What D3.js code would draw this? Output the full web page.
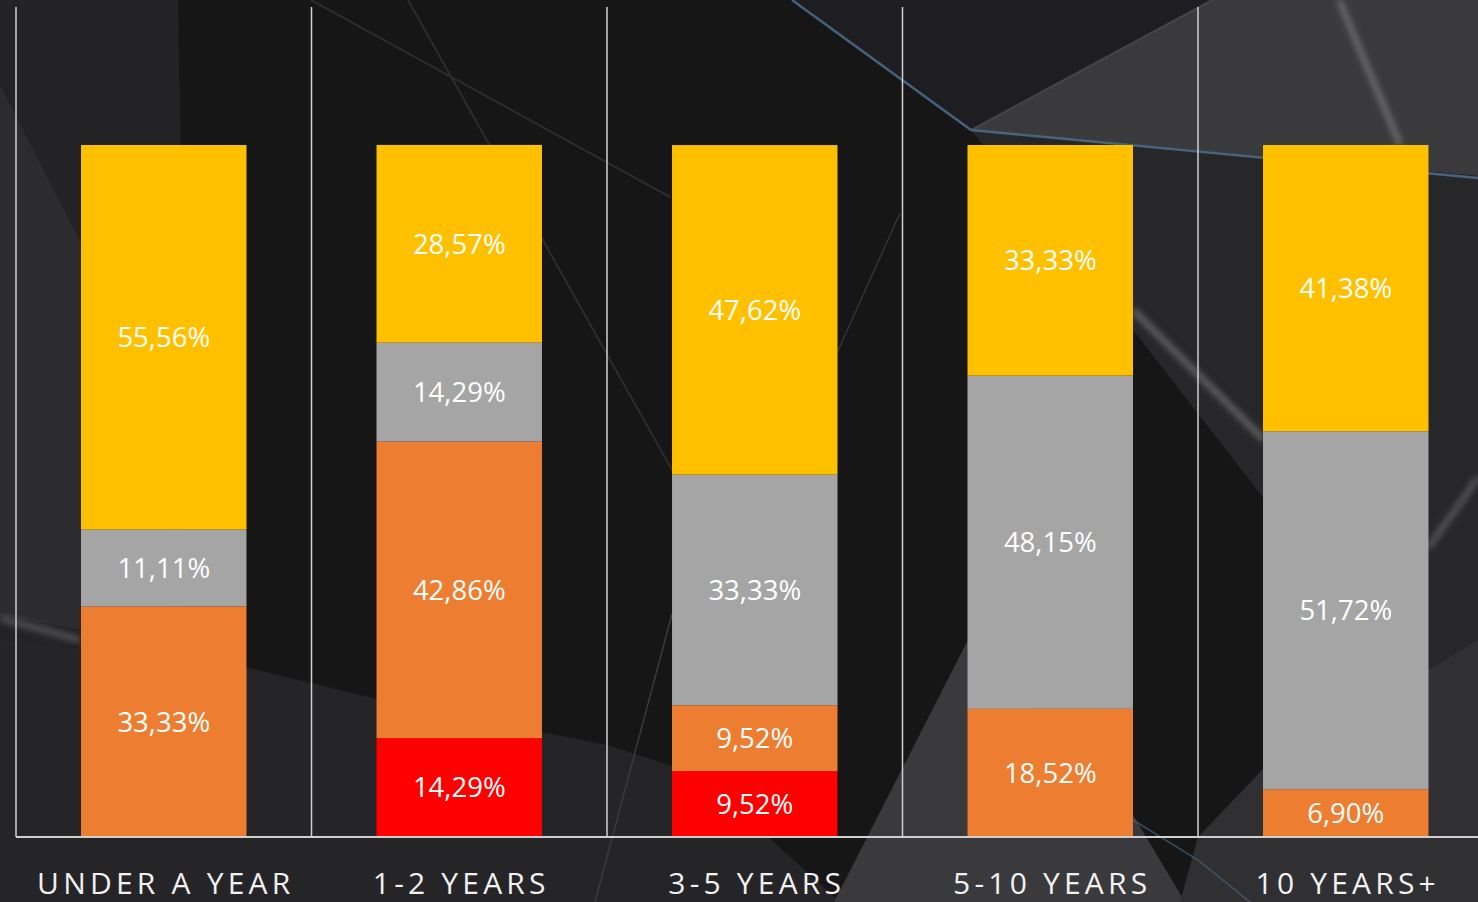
<!DOCTYPE html>
<html lang="en">
<head>
  <meta charset="UTF-8">
  <title>Stacked bars by tenure</title>
  <style>
    html, body {
      margin: 0;
      padding: 0;
      background: #171717;
      overflow: hidden;
    }
    svg { display: block; }
  </style>
</head>
<body>
  <svg id="svg" width="1478" height="902"></svg>

  <script src="https://cdn.jsdelivr.net/npm/d3@7"></script>
  <script>
    // chart values (percent of each bar)
    const categories = ['UNDER A YEAR', '1-2 YEARS', '3-5 YEARS', '5-10 YEARS', '10 YEARS+'];
    const seriesKeys = ['red', 'orange', 'gray', 'yellow']; // bottom to top
    const redValues    = [0, 14.29, 9.52, 0, 0];
    const orangeValues = [33.33, 42.86, 9.52, 18.52, 6.90];
    const grayValues   = [11.11, 14.29, 33.33, 48.15, 51.72];
    const yellowValues = [55.56, 28.57, 47.62, 33.33, 41.38];

    const colors = {
      red: '#FF0000',
      orange: '#ED7D31',
      gray: '#A5A5A5',
      yellow: '#FFC000'
    };

    const W = 1478, H = 902;
    const svg = d3.select('#svg');

    // ---- background decoration ----
    const bg = svg.append('g');
    bg.append('rect').attr('width', W).attr('height', H).attr('fill', '#161616');

    const defs = svg.append('defs');
    const blur = defs.append('filter').attr('id', 'blur').attr('x', '-20%').attr('y', '-20%')
      .attr('width', '140%').attr('height', '140%');
    blur.append('feGaussianBlur').attr('stdDeviation', 3);

    const shapes = [
      { pts: [[0, 0], [178, 0], [186, 430], [170, 902], [0, 902]], fill: '#232325' },
      { pts: [[0, 85], [172, 420], [168, 645], [0, 615]], fill: '#2c2c2e' },
      { pts: [[0, 640], [250, 668], [380, 700], [607, 745], [700, 775], [840, 902], [0, 902]], fill: '#252527' },
      { pts: [[792, 0], [971, 130], [1212, 0]], fill: '#1e1e22' },
      { pts: [[971, 130], [1212, 0], [1478, 0], [1478, 176]], fill: '#3a3a3c' },
      { pts: [[971, 130], [1478, 176], [1478, 720], [1265, 500], [1133, 330]], fill: '#27272a' },
      { pts: [[834, 902], [968, 640], [1133, 815], [1185, 902]], fill: '#3a3a3c' },
      { pts: [[1198, 837], [1264, 768], [1478, 640], [1478, 902], [1180, 902]], fill: '#303032' }
    ];
    bg.selectAll('polygon')
      .data(shapes)
      .enter()
      .append('polygon')
      .attr('points', d => d.pts.join(' '))
      .attr('fill', d => d.fill);

    const streaks = [
      { pts: [[792, 0], [971, 130], [1478, 178]], stroke: '#4d6f8c', width: 2.5, op: 0.85, blur: false },
      { pts: [[971, 130], [1212, 0]], stroke: '#555', width: 2, op: 0.6, blur: false },
      { pts: [[311, 0], [670, 197]], stroke: '#2c2c2c', width: 2, op: 1, blur: false },
      { pts: [[408, 0], [672, 470]], stroke: '#2c2c2c', width: 2, op: 1, blur: false },
      { pts: [[900, 213], [837, 353]], stroke: '#333', width: 1.5, op: 1, blur: false },
      { pts: [[672, 614], [595, 902]], stroke: '#3a3a3a', width: 1.5, op: 1, blur: false },
      { pts: [[0, 618], [80, 640]], stroke: '#ffffff', width: 6, op: 0.22, blur: true },
      { pts: [[1339, 0], [1400, 145]], stroke: '#ffffff', width: 5, op: 0.3, blur: true },
      { pts: [[1133, 310], [1264, 440]], stroke: '#ffffff', width: 6, op: 0.28, blur: true },
      { pts: [[1428, 548], [1478, 478]], stroke: '#ffffff', width: 5, op: 0.25, blur: true },
      { pts: [[1133, 820], [1198, 860], [1250, 902]], stroke: '#4d6f8c', width: 1.5, op: 0.6, blur: false }
    ];
    bg.selectAll('polyline')
      .data(streaks)
      .enter()
      .append('polyline')
      .attr('points', d => d.pts.join(' '))
      .attr('fill', 'none')
      .attr('stroke', d => d.stroke)
      .attr('stroke-width', d => d.width)
      .attr('stroke-opacity', d => d.op)
      .attr('filter', d => d.blur ? 'url(#blur)' : null);

    // ---- chart ----
    const rows = categories.map((c, i) => ({
      category: c,
      red: redValues[i],
      orange: orangeValues[i],
      gray: grayValues[i],
      yellow: yellowValues[i]
    }));

    const chartLeft = 16, bandStep = 295.5, chartTop = 145, baseline = 837;

    const x = d3.scaleBand()
      .domain(categories)
      .range([chartLeft, chartLeft + bandStep * categories.length])
      .paddingInner(0.44)
      .paddingOuter(0.22);

    const y = d3.scaleLinear()
      .domain([0, 100])
      .range([baseline, chartTop]);

    const stack = d3.stack().keys(seriesKeys);
    const series = stack(rows);

    // separators between categories
    svg.append('g')
      .selectAll('line')
      .data(categories)
      .enter()
      .append('line')
      .attr('x1', d => x(d) + x.bandwidth() / 2 - x.step() / 2)
      .attr('x2', d => x(d) + x.bandwidth() / 2 - x.step() / 2)
      .attr('y1', 7)
      .attr('y2', baseline)
      .attr('stroke', '#d0d0d0')
      .attr('stroke-width', 1.5);

    // bars
    const layer = svg.append('g')
      .selectAll('g')
      .data(series)
      .enter()
      .append('g')
      .attr('fill', d => colors[d.key]);

    layer.selectAll('rect')
      .data(d => d)
      .enter()
      .append('rect')
      .attr('x', d => x(d.data.category))
      .attr('width', x.bandwidth())
      .attr('y', d => y(d[1]))
      .attr('height', d => y(d[0]) - y(d[1]));

    // value labels
    const fmt = v => v.toFixed(2).replace('.', ',') + '%';
    layer.selectAll('text')
      .data(d => d.filter(s => s[1] - s[0] > 0))
      .enter()
      .append('text')
      .attr('x', d => x(d.data.category) + x.bandwidth() / 2)
      .attr('y', d => (y(d[0]) + y(d[1])) / 2)
      .attr('dy', '0.36em')
      .attr('text-anchor', 'middle')
      .attr('fill', '#ffffff')
      .style('font-family', '"Open Sans", sans-serif')
      .style('font-size', '27.5px')
      .text(d => fmt(d[1] - d[0]));

    // baseline
    svg.append('line')
      .attr('x1', chartLeft)
      .attr('x2', W)
      .attr('y1', baseline)
      .attr('y2', baseline)
      .attr('stroke', '#d0d0d0')
      .attr('stroke-width', 2);

    // category labels
    svg.append('g')
      .selectAll('text')
      .data(categories)
      .enter()
      .append('text')
      .attr('x', d => x(d) + x.bandwidth() / 2 + 2)
      .attr('y', 894)
      .attr('text-anchor', 'middle')
      .attr('fill', '#f2f2f2')
      .style('font-family', '"Open Sans", sans-serif')
      .style('font-size', '30px')
      .style('letter-spacing', '4.2px')
      .text(d => d);
  </script>
</body>
</html>
